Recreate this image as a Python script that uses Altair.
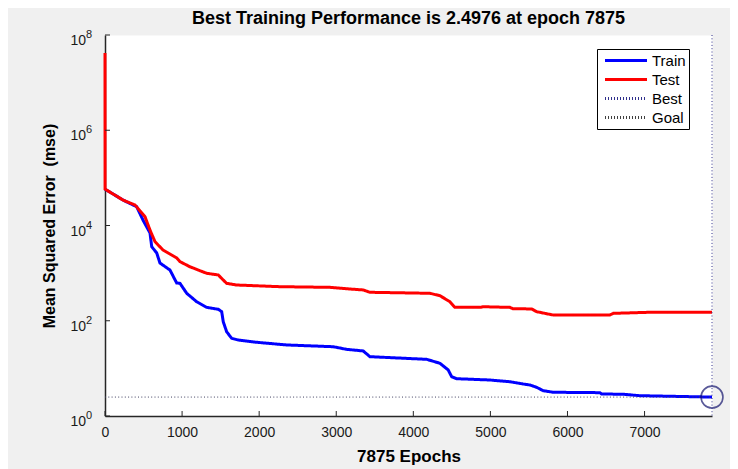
import altair as alt
import pandas as pd

# ---- data ----
train_epochs = [0, 237, 411, 493, 584, 606, 671, 713, 843, 930, 973, 1060, 1189, 1319, 1470, 1514,
                1534, 1578, 1643, 1729, 1968, 2357, 2961, 3135, 3350, 3437, 4172, 4345, 4453, 4497,
                4562, 4993, 5253, 5425, 5512, 5599, 5685, 5815, 6420, 6442, 6722, 6939, 7875]
train_mse = [5.8e4, 3.4e4, 2.48e4, 1.30e4, 6.96e3, 3.59e3, 2.65e3, 1.63e3, 1.16e3, 620, 611, 377, 251,
             191, 174, 155, 95.5, 58.9, 42.8, 39.4, 35.3, 31.0, 28.5, 25.1, 23.2, 17.6, 15.5, 12.8,
             9.25, 6.69, 6.07, 5.70, 5.25, 4.70, 4.48, 4.01, 3.40, 3.15, 3.09, 2.90, 2.86, 2.67, 2.4976]

test_epochs = [0, 1, 237, 389, 519, 584, 649, 752, 930, 973, 1102, 1319, 1470, 1534, 1578, 1708,
               2270, 2918, 3178, 3350, 3437, 4215, 4345, 4475, 4540, 4864, 4907, 5253, 5292, 5535,
               5600, 5707, 5815, 6550, 6593, 7026, 7875]
test_mse = [4.2e7, 5.8e4, 3.4e4, 2.7e4, 1.53e4, 8.0e3, 4.57e3, 3.06e3, 2.08e3, 1.74e3, 1.36e3, 991,
            914, 717, 611, 563, 519, 503, 464, 443, 396, 377, 336, 251, 191, 191, 197, 191, 179, 177,
            155, 143, 132, 132, 143, 150, 150]

series_names = ["Train", "Test", "Best", "Goal"]
series_colors = ["#0000ff", "#ff0000", "#30308c", "#404040"]

best_epoch = 7875
best_perf = 2.4976

x_ticks = [0, 1000, 2000, 3000, 4000, 5000, 6000, 7000]
y_tick_values = [1, 100, 10000, 1000000, 100000000]
y_tick_exps = ["0", "2", "4", "6", "8"]

title_text = "Best Training Performance is 2.4976 at epoch 7875"
x_title = "7875 Epochs"
y_title = "Mean Squared Error\u00a0 (mse)"

# ---- tables ----
train_df = pd.DataFrame({"epoch": train_epochs, "mse": train_mse, "series": "Train"})
test_df = pd.DataFrame({"epoch": test_epochs, "mse": test_mse, "series": "Test"})
best_pt = pd.DataFrame({"epoch": [best_epoch], "mse": [best_perf]})
best_h = pd.DataFrame({"epoch": [0], "epoch_end": [best_epoch], "mse": [best_perf]})
xt_df = pd.DataFrame({"epoch": x_ticks})
yt_df = pd.DataFrame({"mse": y_tick_values, "exp": y_tick_exps})

FONT = "Liberation Sans"
W, H = 607, 381

x_scale = alt.Scale(domain=[0, best_epoch], nice=False, zero=False)
y_scale = alt.Scale(type="log", domain=[1, 1e8], nice=False)

x_enc = alt.X("epoch:Q", scale=x_scale, title=x_title,
              axis=alt.Axis(values=x_ticks, format="d", ticks=False, grid=False,
                            labelFontSize=14, labelFont=FONT, labelColor="#1a1a1a",
                            labelPadding=9, labelFlush=False,
                            titleFont=FONT, titleFontSize=17, titleFontWeight="bold",
                            titleColor="#000000", titlePadding=9,
                            domainColor="#262626", domainWidth=1.5))
y_enc = alt.Y("mse:Q", scale=y_scale, title=y_title,
              axis=alt.Axis(values=y_tick_values, labels=False, ticks=False, grid=False,
                            titleFont=FONT, titleFontSize=16, titleFontWeight="bold",
                            titleColor="#000000", titlePadding=48,
                            domainColor="#262626", domainWidth=1.5))

leg = alt.Legend(title=None, orient="none", legendX=492, legendY=14,
                 fillColor="#ffffff", strokeColor="#000000", padding=3,
                 labelFont=FONT, labelFontSize=15, labelColor="#000000",
                 symbolType="M-0.5,0H5.5", symbolSize=196, rowPadding=2, labelOffset=35)

color_enc = alt.Color("series:N", scale=alt.Scale(domain=series_names, range=series_colors), legend=leg)
dash_enc = alt.StrokeDash("series:N", scale=alt.Scale(domain=series_names,
                                                      range=[[1, 0], [1, 0], [1, 2], [1, 2]]), legend=leg)
sw_enc = alt.StrokeWidth("series:N", scale=alt.Scale(domain=series_names, range=[3, 3, 1, 1]), legend=leg)

train_line = alt.Chart(train_df).mark_line().encode(
    x=x_enc, y=y_enc, color=color_enc, strokeDash=dash_enc, strokeWidth=sw_enc,
    order=alt.Order("epoch:Q"))
test_line = alt.Chart(test_df).mark_line().encode(
    x=alt.X("epoch:Q", scale=x_scale), y=alt.Y("mse:Q", scale=y_scale),
    color=color_enc, strokeDash=dash_enc, strokeWidth=sw_enc, order=alt.Order("epoch:Q"))

best_v = alt.Chart(best_pt).mark_rule(color="#30308c", strokeDash=[1, 2.3], strokeWidth=1).encode(
    x=alt.X("epoch:Q", scale=x_scale))
best_hline = alt.Chart(best_h).mark_rule(color="#404060", strokeDash=[1, 2.3], strokeWidth=1).encode(
    x=alt.X("epoch:Q", scale=x_scale), x2="epoch_end:Q", y=alt.Y("mse:Q", scale=y_scale))
best_circle = alt.Chart(best_pt).mark_point(shape="circle", filled=False, size=480,
                                           color="#14146e", strokeWidth=1.6).encode(
    x=alt.X("epoch:Q", scale=x_scale), y=alt.Y("mse:Q", scale=y_scale))

x_tick_marks = alt.Chart(xt_df).mark_rule(color="#262626", strokeWidth=1).encode(
    x=alt.X("epoch:Q", scale=x_scale), y=alt.value(H), y2=alt.value(H - 5))
y_tick_marks = alt.Chart(yt_df).mark_rule(color="#262626", strokeWidth=1).encode(
    y=alt.Y("mse:Q", scale=y_scale), x=alt.value(0), x2=alt.value(5))

y_base = alt.Chart(yt_df).mark_text(text="10", align="right", baseline="middle", dy=6,
                                    font=FONT, fontSize=14, color="#1a1a1a").encode(
    y=alt.Y("mse:Q", scale=y_scale), x=alt.value(-19))
y_exp = alt.Chart(yt_df).mark_text(align="left", baseline="middle", dy=0,
                                   font=FONT, fontSize=11, color="#1a1a1a").encode(
    y=alt.Y("mse:Q", scale=y_scale), x=alt.value(-19), text="exp:N")

chart = alt.layer(
    train_line, test_line, best_hline, best_v, best_circle,
    x_tick_marks, y_tick_marks, y_base, y_exp
).properties(
    width=W, height=H,
    title=alt.TitleParams(title_text, font=FONT, fontSize=18, fontWeight="bold",
                          color="#000000", anchor="middle", offset=1),
    autosize=alt.AutoSizeParams(type="none"),
    padding={"left": 97, "top": 27, "right": 18, "bottom": 53},
).configure(background="#f0f0f0").configure_view(fill="#ffffff", strokeOpacity=0)

chart.save("out.html", embed_options={"renderer": "svg", "actions": False})
